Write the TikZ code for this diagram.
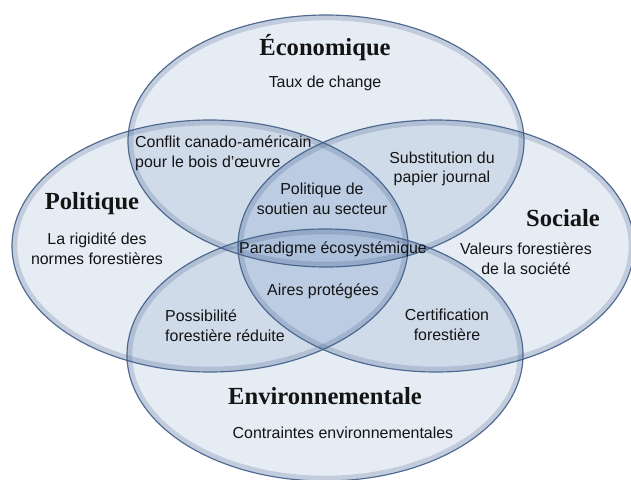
\documentclass[tikz,border=0pt]{standalone}
\usepackage{fontspec}
\setmainfont{Liberation Sans}
\newfontfamily\titlefont{Liberation Serif}
\usepackage{xcolor}
\usetikzlibrary{positioning}
\definecolor{vennfill}{RGB}{60,105,170}
\definecolor{vennrim}{RGB}{66,94,136}
\definecolor{textcolor}{RGB}{20,20,20}

\begin{document}
\begin{tikzpicture}[
    venn/.style={fill=vennfill, fill opacity=0.13},
    glow/.style={draw=vennrim, line width=4.5pt, draw opacity=0.22},
    rim/.style={draw=vennrim, line width=1pt, draw opacity=0.9},
    title/.style={font=\titlefont\bfseries\fontsize{21}{24}\selectfont, text=textcolor, inner sep=0pt},
    item/.style={font=\fontsize{13.6}{16.8}\selectfont, text=textcolor, align=center, inner sep=0pt}]

    \useasboundingbox (0,0) rectangle (18.93,-14.37);

    % Circles
    \fill [venn] (9.78,-4.23) ellipse (5.94 and 3.78);
    \fill [venn] (6.30,-7.38) ellipse (5.94 and 3.78);
    \fill [venn] (13.08,-7.38) ellipse (5.94 and 3.78);
    \fill [venn] (9.75,-10.65) ellipse (5.94 and 3.78);

    % Rims
    \foreach \cx/\cy in {9.78/-4.23, 6.30/-7.38, 13.08/-7.38, 9.75/-10.65} {
        \draw [glow] (\cx,\cy) ellipse (5.86 and 3.70);
        \draw [rim] (\cx,\cy) ellipse (5.94 and 3.78);
    }

    % Titles
    \node [title] (eco) at (9.75,-1.44) {Économique};
    \node [title] (pol) at (2.76,-6.12) {Politique};
    \node [title] (soc) at (16.89,-6.54) {Sociale};
    \node [title] (env) at (9.75,-11.88) {Environnementale};

    % One sphere
    \node [item, below=0.44cm of eco] (change) {Taux de change};
    \node [item] (normes) at (2.91,-7.47) {La rigidité des\\normes forestières};
    \node [item] (valeurs) at (15.78,-7.77) {Valeurs forestières\\de la société};
    \node [item] (contraintes) at (10.29,-12.99) {Contraintes environnementales};

    % Overlaps
    \node [item, align=left, anchor=west] (conflit) at (4.05,-4.59) {Conflit canado-américain\\pour le bois d’œuvre};
    \node [item] (papier) at (13.26,-5.07) {Substitution du\\papier journal};
    \node [item] (soutien) at (9.66,-5.97) {Politique de\\soutien au secteur};
    \node [item] (paradigme) at (9.99,-7.47) {Paradigme écosystémique};
    \node [item] (aires) at (9.69,-8.73) {Aires protégées};
    \node [item, align=left, anchor=west] (possibilite) at (4.95,-9.78) {Possibilité\\forestière réduite};
    \node [item] (certif) at (13.41,-9.75) {Certification\\forestière};

\end{tikzpicture}
\end{document}
